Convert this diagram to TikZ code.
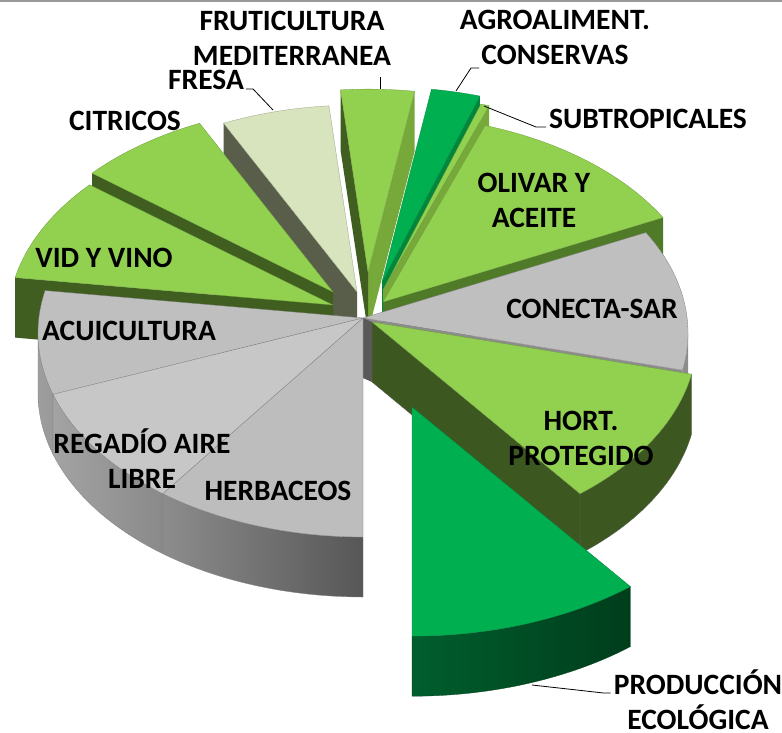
\documentclass[tikz,border=0pt]{standalone}
\usepackage{fontspec}
\setmainfont{Carlito}
\definecolor{lgreen}{HTML}{92D050}
\definecolor{mgreen}{HTML}{76A83A}
\definecolor{dgreen}{HTML}{3F5E1F}
\definecolor{ogreen}{HTML}{4F7A28}
\definecolor{hgreen}{HTML}{3C5820}
\definecolor{agreen}{HTML}{00B050}
\definecolor{awall}{HTML}{00873B}
\definecolor{pwallL}{HTML}{005E2D}
\definecolor{pwallR}{HTML}{003D1C}
\definecolor{fresatop}{HTML}{D7E4BD}
\definecolor{fresawall}{HTML}{595E4B}
\definecolor{gtop}{HTML}{BFBFBF}
\tikzstyle{lbl} = [font=\fontsize{29.5}{35}\selectfont\bfseries, align=center, anchor=base, inner sep=0pt]
\tikzstyle{leader} = [draw, line width=0.8pt]
\tikzstyle{top_green} = [fill=lgreen, draw=lgreen!75!black, line width=0.3pt]
\tikzstyle{top_agro} = [fill=agreen, draw=agreen!75!black, line width=0.3pt]
\tikzstyle{top_fresa} = [fill=fresatop, draw=fresatop!70!black, line width=0.3pt]
\tikzstyle{top_gray} = [fill=gtop, draw=black!50, line width=0.3pt]
\tikzstyle{wall_dark} = [fill=dgreen]
\tikzstyle{wall_mid} = [fill=mgreen]
\tikzstyle{wall_olive} = [fill=ogreen]
\tikzstyle{wall_hort} = [fill=hgreen, draw=black!60, line width=0.3pt]
\tikzstyle{wall_agro} = [fill=awall]
\tikzstyle{wall_fresa} = [fill=fresawall]
\tikzstyle{wall_gray} = [fill=black!45]
% apex x, apex y, t1, t2, scale
\newcommand{\sliceTop}[5]{(#1,#2) -- plot[domain=#3:#4, samples=40] ({#1+325*#5*cos(\x)}, {#2+15-204*#5*sin(\x)}) -- cycle}
\newcommand{\sliceOuter}[5]{plot[domain=#3:#4, samples=40] ({#1+325*#5*cos(\x)}, {#2+15-204*#5*sin(\x)}) -- plot[domain=#4:#3, samples=40] ({#1+325*#5*cos(\x)}, {#2+75-204*#5*sin(\x)}) -- cycle}
% apex x, apex y, t, scale
\newcommand{\sliceSide}[4]{(#1,#2) -- ({#1+325*#4*cos(#3)}, {#2+15-204*#4*sin(#3)}) -- ++(0,60) -- ({#1},{#2+60}) -- cycle}
\begin{document}
\begin{tikzpicture}[x=1pt, y=-1pt]
\useasboundingbox (0,0) rectangle (782,732);
\draw [black!40, line width=2pt] (0,1) -- (782,1);

% back slices
\fill [wall_mid] \sliceSide{368}{272}{81.5}{0.97};
\fill [wall_dark] \sliceSide{368}{272}{95}{0.97};
\filldraw [top_green] \sliceTop{368}{272}{81.5}{95}{0.97};

\fill [wall_agro] \sliceSide{382}{282}{73}{1.03};
\filldraw [top_agro] \sliceTop{382}{282}{73}{81.5}{1.03};

\fill [wall_fresa] \sliceSide{357}{292}{114.5}{0.99};
\filldraw [top_fresa] \sliceTop{357}{292}{95}{114.5}{0.99};

\fill [wall_mid] \sliceSide{383}{290}{71.5}{1.03};
\filldraw [top_green] \sliceTop{383}{290}{71.5}{73}{1.03};

\fill [wall_dark] \sliceSide{333}{292}{138.5}{0.99};
\filldraw [top_green] \sliceTop{333}{292}{114.5}{138.5}{0.99};

\fill [wall_olive] \sliceSide{383}{302}{29.5}{0.99};
\filldraw [top_green] \sliceTop{383}{302}{29.5}{71.5}{0.99};

\fill [wall_dark] \sliceSide{333}{305}{168}{1};
\filldraw [top_green] \sliceTop{333}{305}{138.5}{168}{1};

% front slices
\fill [wall_gray] \sliceSide{363}{318}{-10.5}{1};
\fill [wall_gray] \sliceOuter{363}{318}{-10.5}{0}{1};
\filldraw [top_gray] \sliceTop{363}{318}{-10.5}{29.5}{1};

\shadedraw [left color=black!38, right color=black!40, draw=black!50, line width=0.3pt] \sliceOuter{363}{318}{180}{197.5}{1};
\filldraw [top_gray] \sliceTop{363}{318}{168}{197.5}{1};

\shadedraw [left color=black!36, right color=black!46, draw=black!50, line width=0.3pt] \sliceOuter{363}{318}{197.5}{232}{1};
\filldraw [top_gray, fill=black!22] \sliceTop{363}{318}{197.5}{232}{1};

\fill [wall_hort] \sliceSide{372}{322}{309.8}{1};
\filldraw [wall_hort] \sliceOuter{372}{322}{309.8}{349.5}{1};
\filldraw [top_green] \sliceTop{372}{322}{309.8}{349.5}{1};

\fill [black!65] (363,318) -- (372,322) -- (372,382) -- (363,378) -- cycle;
\shadedraw [left color=black!45, right color=black!66, draw=black!50, line width=0.3pt] \sliceOuter{363}{318}{232}{270}{1};
\filldraw [top_gray, fill=black!26] \sliceTop{363}{318}{232}{270}{1};

\shadedraw [left color=pwallL, right color=pwallR, draw=pwallR, line width=0.3pt] \sliceOuter{412}{407}{270}{309.8}{1.05};
\filldraw [top_agro] \sliceTop{412}{407}{270}{309.8}{1.05};

% labels (base = last line)
\node [lbl] (frut) at (292,65) {FRUTICULTURA\\MEDITERRANEA};
\node [lbl] (agro) at (555,64) {AGROALIMENT.\\CONSERVAS};
\node [lbl] (fresa) at (206,89) {FRESA};
\node [lbl] (citricos) at (125,130) {CITRICOS};
\node [lbl] (subtrop) at (648,128) {SUBTROPICALES};
\node [lbl] (olivar) at (534,227) {OLIVAR Y\\ACEITE};
\node [lbl] (vid) at (104,267) {VID Y VINO};
\node [lbl] (conecta) at (592,318) {CONECTA-SAR};
\node [lbl] (acui) at (129,340) {ACUICULTURA};
\node [lbl] (regadio) at (142,488) {REGADÍO AIRE\\LIBRE};
\node [lbl] (hort) at (581,465) {HORT.\\PROTEGIDO};
\node [lbl] (herb) at (278,500) {HERBACEOS};
\node [lbl] (prod) at (698,729) {PRODUCCIÓN\\ECOLÓGICA};

% leader lines
\coordinate (frutTip) at (380,89);
\coordinate (fresaTip) at (273,110);
\coordinate (agroTip) at (456,91);
\coordinate (subTip) at (484,106);
\coordinate (prodTip) at (532,685);
\draw [leader] (frutTip) -- ++(0,-12);
\draw [leader] ([xshift=2pt]fresa.base east) -- ++(7,0) -- (fresaTip);
\draw [leader] (agroTip) -- ([xshift=-84pt,yshift=-4pt]agro.base) -- ([xshift=-76pt,yshift=-4pt]agro.base);
\draw [leader] (subTip) -- ([xshift=-13pt,yshift=1pt]subtrop.base west) -- ([xshift=-3pt,yshift=1pt]subtrop.base west);
\draw [leader] (prodTip) -- ([xshift=-10pt,yshift=36pt]prod.base west) -- ([xshift=-3pt,yshift=36pt]prod.base west);

\end{tikzpicture}
\end{document}
